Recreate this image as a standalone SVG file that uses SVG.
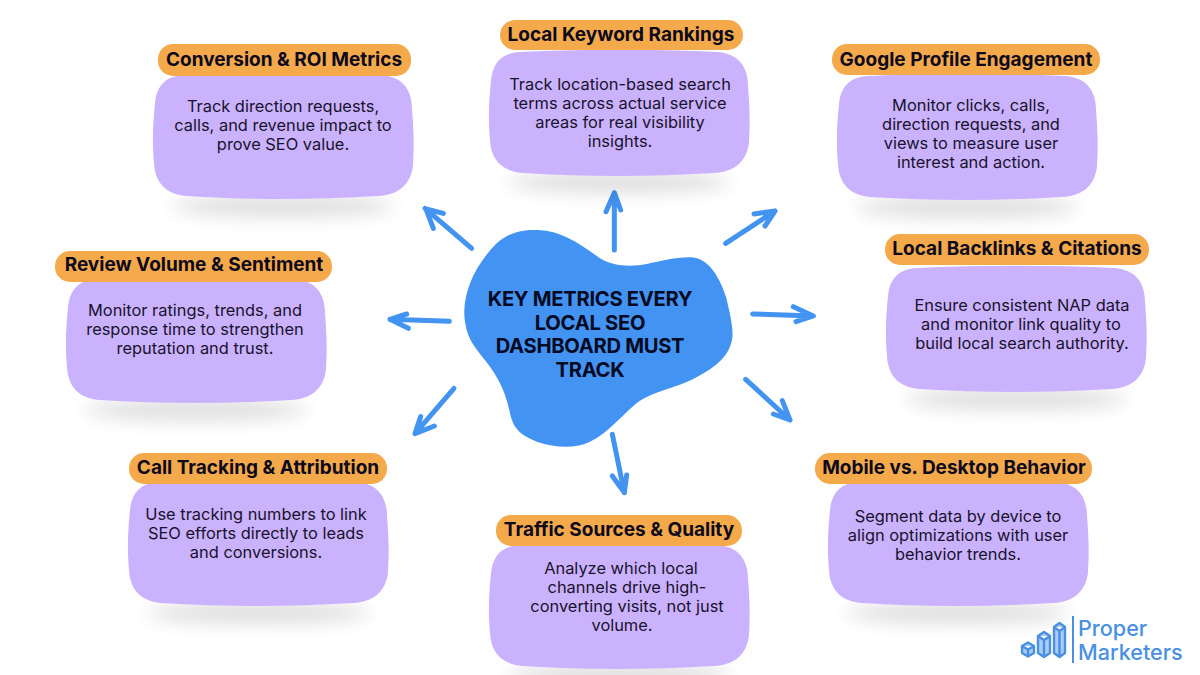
<svg xmlns="http://www.w3.org/2000/svg" width="1200" height="675" viewBox="0 0 1200 675">
<style>
.card{fill:#cbb2fe}
.pill{fill:#f4a94a}
.shadow{fill:#000;opacity:.13;filter:url(#soft)}
.title{font:700 19px Inter,"Liberation Sans",sans-serif;fill:#0d0a1e;text-anchor:middle}
.body{font:400 16.4px Inter,"Liberation Sans",sans-serif;fill:#17132b;text-anchor:middle}
.head{font:700 20.2px Inter,"Liberation Sans",sans-serif;fill:#050a22;text-anchor:middle;letter-spacing:-.3px}
.arrow{fill:none;stroke:#4393f0;stroke-width:15;stroke-linecap:round;stroke-linejoin:round}
.brand{font:500 21.6px Inter,"Liberation Sans",sans-serif;fill:#4a90e2}
.lg{fill:#a9cdf5;stroke:#4a90e2;stroke-width:2.4;stroke-linejoin:round}
</style>
<defs>
<filter id="soft" x="-30%" y="-150%" width="160%" height="400%"><feGaussianBlur stdDeviation="9"/></filter>
<path id="cardShape" d="M30 2C95 -1 165 -1 228 2C248 4 258 16 258 36C260 62 260 72 259 92C257 112 244 122 224 123C160 127 95 127 32 123C12 121 1 110 0 90C-2 68 -1 50 1 30C3 12 12 3 30 2Z"/>
<g id="shadowShape"><ellipse cx="129" cy="132" rx="112" ry="11" class="shadow"/></g>
</defs>
<rect width="1200" height="675" fill="#fff"/>

<g id="center-blob">
<path transform="translate(380 190) scale(.33333)" fill="#4393f3" d="M253 360C255 300 285 225 350 160C390 125 430 118 475 120C540 122 600 160 660 205C695 228 750 232 800 222C850 212 900 198 945 203C990 212 1020 265 1038 320C1050 370 1062 420 1056 450C1045 505 1000 535 940 567C890 592 820 605 775 635C730 670 690 725 630 755C590 775 530 775 470 755C420 735 400 715 390 670C380 620 365 580 330 530C300 490 270 460 260 420C255 400 252 380 253 360Z"/>
<text class="head" x="590" y="306">KEY METRICS EVERY</text>
<text class="head" x="590" y="330">LOCAL SEO</text>
<text class="head" x="590" y="353">DASHBOARD MUST</text>
<text class="head" x="590" y="377">TRACK</text>
</g>

<g id="connectors" class="arrow" transform="translate(380 190) scale(.33333)">
<path d="M275 175L135 55M190 70L138 57L160 115"/>
<path d="M703 180L703 8M678 65L703 8L722 60"/>
<path d="M1037 160L1185 63M1122 72L1185 63L1155 108"/>
<path d="M1118 372L1300 378M1240 350L1300 378L1248 395"/>
<path d="M1097 568L1230 690M1207 632L1230 690L1180 672"/>
<path d="M697 733L733 908M697 858L733 908L740 855"/>
<path d="M222 595L105 731M122 680L105 731L163 708"/>
<path d="M208 394L30 388M80 372L30 388L85 415"/>
</g>

<g id="node-conversion">
<use href="#shadowShape" transform="translate(154 74)"/>
<use href="#cardShape" class="card" transform="translate(154 73)"/>
<rect class="pill" x="158" y="44" width="253" height="32" rx="15"/>
<text class="title" x="284" y="66">Conversion &amp; ROI Metrics</text>
<text class="body" x="283" y="112">Track direction requests,</text>
<text class="body" x="283" y="131">calls, and revenue impact to</text>
<text class="body" x="283" y="150">prove SEO value.</text>
</g>

<g id="node-keywords">
<use href="#shadowShape" transform="translate(490 50)"/>
<use href="#cardShape" class="card" transform="translate(490 50)"/>
<rect class="pill" x="500" y="20" width="243" height="30" rx="15"/>
<text class="title" x="621" y="41">Local Keyword Rankings</text>
<text class="body" x="620" y="90">Track location-based search</text>
<text class="body" x="620" y="109">terms across actual service</text>
<text class="body" x="620" y="128">areas for real visibility</text>
<text class="body" x="620" y="147">insights.</text>
</g>

<g id="node-google">
<use href="#shadowShape" transform="translate(838 75)"/>
<use href="#cardShape" class="card" transform="translate(838 74)"/>
<rect class="pill" x="832" y="44" width="268" height="31" rx="15"/>
<text class="title" x="966" y="66">Google Profile Engagement</text>
<text class="body" x="971" y="111">Monitor clicks, calls,</text>
<text class="body" x="971" y="130">direction requests, and</text>
<text class="body" x="971" y="149">views to measure user</text>
<text class="body" x="971" y="168">interest and action.</text>
</g>

<g id="node-backlinks">
<use href="#shadowShape" transform="translate(887 267)"/>
<use href="#cardShape" class="card" transform="translate(887 266)"/>
<rect class="pill" x="885" y="234" width="264" height="31" rx="15"/>
<text class="title" x="1017" y="255">Local Backlinks &amp; Citations</text>
<text class="body" x="1022" y="311">Ensure consistent NAP data</text>
<text class="body" x="1021" y="330">and monitor link quality to</text>
<text class="body" x="1022" y="349">build local search authority.</text>
</g>

<g id="node-mobile">
<use href="#shadowShape" transform="translate(829 481)"/>
<use href="#cardShape" class="card" transform="translate(829 480)"/>
<rect class="pill" x="815" y="453" width="277" height="31" rx="15"/>
<text class="title" x="954" y="474">Mobile vs. Desktop Behavior</text>
<text class="body" x="958" y="522">Segment data by device to</text>
<text class="body" x="958" y="541">align optimizations with user</text>
<text class="body" x="958" y="560">behavior trends.</text>
</g>

<g id="node-traffic">
<use href="#shadowShape" transform="translate(490 543)"/>
<use href="#cardShape" class="card" transform="translate(490 543)"/>
<rect class="pill" x="496" y="515" width="246" height="31" rx="15"/>
<text class="title" x="619" y="536">Traffic Sources &amp; Quality</text>
<text class="body" x="621" y="574">Analyze which local</text>
<text class="body" x="627" y="593">channels drive high-</text>
<text class="body" x="627" y="612">converting visits, not just</text>
<text class="body" x="622" y="631">volume.</text>
</g>

<g id="node-call">
<use href="#shadowShape" transform="translate(129 481)"/>
<use href="#cardShape" class="card" transform="translate(129 480)"/>
<rect class="pill" x="129" y="453" width="258" height="31" rx="15"/>
<text class="title" x="258" y="474">Call Tracking &amp; Attribution</text>
<text class="body" x="256" y="520">Use tracking numbers to link</text>
<text class="body" x="256" y="539">SEO efforts directly to leads</text>
<text class="body" x="256" y="558">and conversions.</text>
</g>

<g id="node-review">
<use href="#shadowShape" transform="translate(67 278)"/>
<use href="#cardShape" class="card" transform="translate(67 277)"/>
<rect class="pill" x="55" y="251" width="277" height="31" rx="15"/>
<text class="title" x="194" y="271">Review Volume &amp; Sentiment</text>
<text class="body" x="195" y="316">Monitor ratings, trends, and</text>
<text class="body" x="195" y="335">response time to strengthen</text>
<text class="body" x="195" y="354">reputation and trust.</text>
</g>

<g id="logo">
<path class="lg" d="M1022 646L1028 642.500L1034 646V653L1028 656.500L1022 653ZM1022 646L1028 649.500L1034 646M1028 649.500V656.500"/>
<path class="lg" d="M1038 636L1044 632L1050 636V653L1044 657L1038 653ZM1044 640V657M1038 636L1044 640L1050 636"/>
<path class="lg" d="M1054 627L1059.500 623L1065 627V653L1059.500 657L1054 653ZM1059.500 631V657M1054 627L1059.500 631L1065 627"/>
<path d="M1073 616V663" fill="none" stroke="#4a90e2" stroke-width="2"/>
<text class="brand" x="1078" y="636">Proper</text>
<text class="brand" x="1078" y="660">Marketers</text>
</g>
</svg>
